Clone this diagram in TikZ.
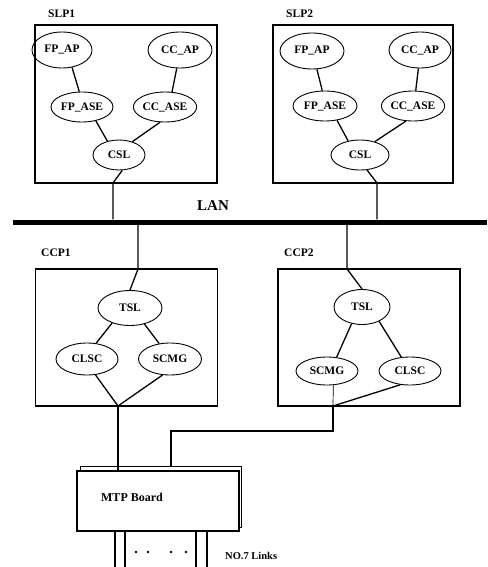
\documentclass[tikz,border=0pt]{standalone}
\usepackage{fontspec}
\setmainfont{Liberation Serif}
\usetikzlibrary{shapes.geometric}

\begin{document}
\begin{tikzpicture}[
  x=1pt, y=-1pt,
  font=\fontsize{11.5}{13}\selectfont\bfseries,
  unit/.style={draw, line width=1.3pt, minimum width=182, minimum height=158, inner sep=0pt},
  proc/.style={ellipse, draw, line width=0.9pt, minimum width=62, minimum height=32, inner sep=0pt},
  board/.style={draw, fill=white, line width=1.2pt, minimum width=161, minimum height=61, inner sep=0pt},
  tag/.style={anchor=west, inner sep=0pt},
  wire/.style={line width=1.3pt}
]
\useasboundingbox (0,0) rectangle (487,567);

% processors
\node[unit] (slp1) at (126,104) {};
\node[unit, minimum width=180] (slp2) at (363,104) {};
\node[unit, minimum height=137] (ccp1) at (126.5,337.5) {};
\node[unit, minimum height=137] (ccp2) at (369,337.5) {};
\node[tag] (slp1tag) at (48,14) {SLP1};
\node[tag] (slp2tag) at (286,14) {SLP2};
\node[tag] (ccp1tag) at (41,253) {CCP1};
\node[tag] (ccp2tag) at (284,253) {CCP2};

% SLP1 stack
\node[proc, minimum width=60, minimum height=36] (fpap1) at (62,50) {FP\_AP};
\node[proc, minimum width=64, minimum height=36] (ccap1) at (180,50) {CC\_AP};
\node[proc, minimum height=30] (fpase1) at (82,107) {FP\_ASE};
\node[proc, minimum width=56, minimum height=30] (ccase1) at (165,107) {CC\_ASE};
\node[proc, minimum width=52, minimum height=30] (csl1) at (119,155) {CSL};
\draw[wire] (fpap1.-60) -- (fpase1.100);
\draw[wire] (ccap1.-100) -- (ccase1.65);
\draw[wire] (fpase1.-45) -- (csl1.130);
\draw[wire] (ccase1.-108) -- (csl1.45);

% SLP2 stack
\node[proc, minimum width=64, minimum height=36] (fpap2) at (312,51) {FP\_AP};
\node[proc, minimum height=36] (ccap2) at (420,50) {CC\_AP};
\node[proc, minimum width=64, minimum height=30] (fpase2) at (325,106) {FP\_ASE};
\node[proc, minimum width=63, minimum height=30] (ccase2) at (413,106) {CC\_ASE};
\node[proc, minimum width=58, minimum height=30] (csl2) at (360,155) {CSL};
\draw[wire] (fpap2.-75) -- (fpase2.100);
\draw[wire] (ccap2.-95) -- (ccase2.80);
\draw[wire] (fpase2.-50) -- (csl2.130);
\draw[wire] (ccase2.-115) -- (csl2.42);

% LAN bus
\node[fill, minimum width=474, minimum height=5, inner sep=0pt] (lan) at (250,222) {};
\node[font=\fontsize{15}{17}\selectfont\bfseries] (lantag) at (213,206) {LAN};
\coordinate (d1) at (113,183);
\coordinate (d2) at (377,183);
\draw[wire] (csl1.-78) -- (d1) -- (d1 |- lan.north);
\draw[wire] (csl2.-65) -- (d2) -- (d2 |- lan.north);
\coordinate (u1) at (138,269);
\coordinate (u2) at (347,269);
\draw[wire] (u1 |- lan.south) -- (u1) -- (130,290);
\draw[wire] (u2 |- lan.south) -- (u2) -- (362,289);

% CCP1 stack
\node[proc, minimum width=64, minimum height=35] (tsl1) at (130,308) {TSL};
\node[proc] (clsc1) at (87,359) {CLSC};
\node[proc, minimum width=63] (scmg1) at (170,359) {SCMG};
\draw[wire] (tsl1.-140) -- (clsc1.60);
\draw[wire] (tsl1.-48) -- (scmg1.125);
\coordinate (j1) at (118,406);
\draw[wire] (clsc1.-62) -- (j1);
\draw[wire] (scmg1.-115) -- (j1);

% CCP2 stack
\node[proc, minimum width=56, minimum height=35] (tsl2) at (362,307) {TSL};
\node[proc, minimum height=28] (scmg2) at (327,371) {SCMG};
\node[proc, minimum height=28] (clsc2) at (410,371) {CLSC};
\draw[wire] (tsl2.-122) -- (scmg2.55);
\draw[wire] (tsl2.-40) -- (clsc2.122);
\coordinate (j2) at (333,406);
\draw[line width=0.7pt] (scmg2.-66) -- (j2);
\draw[wire] (clsc2.-125) -- (j2);

% MTP board and links
\node[board] (mtpback) at (161,497) {};
\node[board, minimum width=162, minimum height=60] (mtp) at (158,501) {};
\node[font=\fontsize{12}{14}\selectfont\bfseries] (mtptag) at (132,497) {MTP Board};
\draw[wire] (j1) -- (j1 |- mtp.north);
\coordinate (k2) at (333,431);
\coordinate (k1) at (171,431);
\draw[wire] (j2) -- (k2) -- (k1) -- (k1 |- mtpback.north);
\foreach \x in {115,125,196,207}
  \draw[wire] (mtp.south -| \x,0) -- (\x,567);
\foreach \x in {136,148,171,186}
  \fill (\x,552) circle (1.4);
\node[tag, font=\fontsize{10.5}{12}\selectfont\bfseries] (linktag) at (225,556) {NO.7 Links};
\end{tikzpicture}
\end{document}
